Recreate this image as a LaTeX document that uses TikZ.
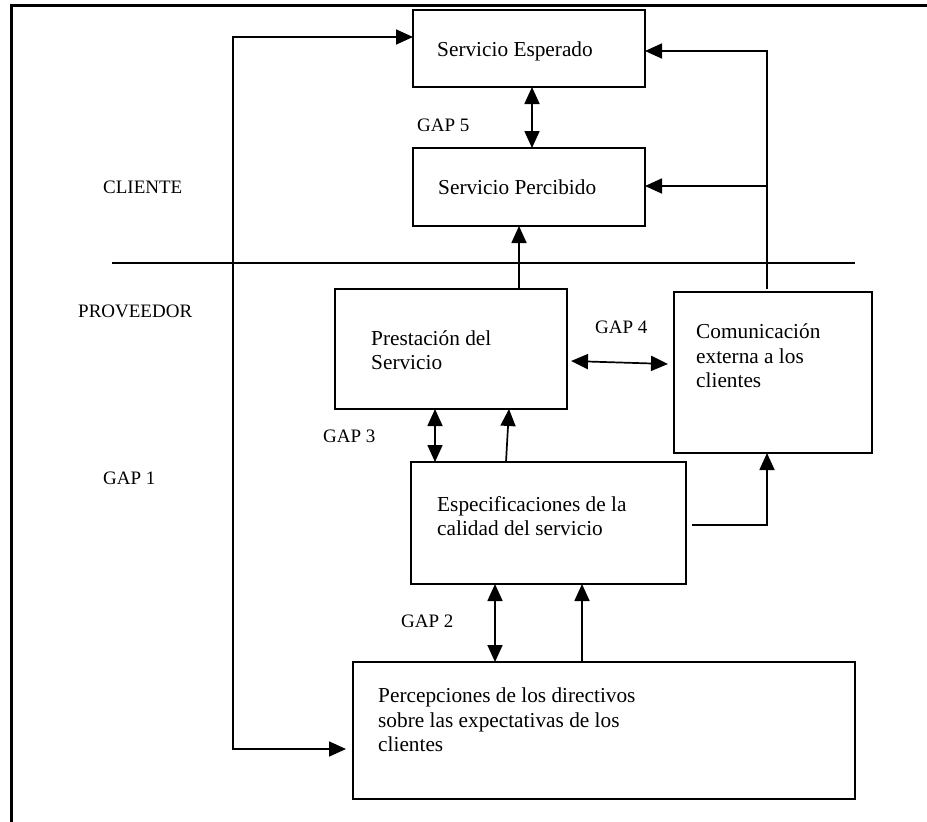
\documentclass[tikz,border=0pt]{standalone}
\usepackage{fontspec}
\setmainfont{Liberation Serif}
\usetikzlibrary{arrows.meta,calc}
\begin{document}
\begin{tikzpicture}[x=1pt,y=-1pt,
  box/.style={draw,line width=2.6pt,rectangle,outer sep=0pt,inner sep=0pt},
  txt/.style={anchor=west,align=left,inner sep=0pt,font=\fontsize{21.3}{24.5}\selectfont},
  lbl/.style={anchor=west,inner sep=0pt,font=\fontsize{19}{22}\selectfont},
  conn/.style={line width=1.7pt},
  arr/.style={conn,-{Triangle[length=17pt,width=15pt]}},
  dbl/.style={conn,{Triangle[length=17pt,width=15pt]}-{Triangle[length=17pt,width=15pt]}},
  frame/.style={line width=3pt}]
\useasboundingbox (0,0) rectangle (927,822);
% outer frame (top and left only)
\draw[frame] (927,5) -- (11,5) -- (11,822);
% boxes
\node[box,minimum width=232,minimum height=77] (esp) at (529,48.5) {};
\node[box,minimum width=232,minimum height=78] (perc) at (529,187) {};
\node[box,minimum width=232,minimum height=120] (pres) at (451,349) {};
\node[box,minimum width=198,minimum height=161] (com) at (773,372.5) {};
\node[box,minimum width=275,minimum height=122] (espec) at (548.5,523) {};
\node[box,minimum width=502,minimum height=137] (percep) at (604,730.5) {};
% box texts
\node[txt] (tesp) at (437,51) {Servicio Esperado};
\node[txt] (tperc) at (438,187) {Servicio Percibido};
\node[txt] (tpres) at (371,350) {Prestación del\\Servicio};
\node[txt] (tcom) at (696,356) {Comunicación\\externa a los\\clientes};
\node[txt] (tespec) at (437,516) {Especificaciones de la\\calidad del servicio};
\node[txt] (tpercep) at (378,720) {Percepciones de los directivos\\sobre las expectativas de los\\clientes};
% side labels
\node[lbl] (cliente) at (103,187) {CLIENTE};
\node[lbl] (proveedor) at (78,311) {PROVEEDOR};
\node[lbl] (gap1) at (103,478) {GAP 1};
\node[lbl] (gap2) at (401,621) {GAP 2};
\node[lbl] (gap3) at (323,436) {GAP 3};
\node[lbl] (gap4) at (595,327) {GAP 4};
\node[lbl] (gap5) at (417,125) {GAP 5};
% divider
\coordinate (dl) at (112,263);
\coordinate (dr) at (855,263);
\draw[conn] (dl) -- (dr);
% GAP 1 loop
\coordinate (l1) at (233,37);
\coordinate (l2) at (233,749);
\draw[dbl] (esp.west |- l1) -- (l1) -- (l2) -- ($(percep.west |- l2)+(-7,0)$);
% right feedback from communication
\coordinate (rt) at (767,51);
\coordinate (rm) at (767,186);
\coordinate (rb) at (767,289);
\draw[arr] (rb) -- (rt) -- (esp.east |- rt);
\draw[arr] (rm) -- (perc.east |- rm);
% GAP 5
\draw[dbl] ([xshift=3]esp.south) -- ([xshift=3]perc.north);
% prestacion -> percibido
\draw[arr] ([xshift=68]pres.north) -- ([xshift=68]pres.north |- perc.south);
% GAP 4
\draw[dbl] ([xshift=4,yshift=-12]pres.east) -- ([xshift=-6,yshift=8.5]com.west);
% GAP 3
\draw[dbl] ([xshift=-16]pres.south) -- ([xshift=-16]pres.south |- espec.north);
% especificaciones -> prestacion
\draw[arr] ([xshift=-42.5]espec.north) -- ([xshift=58]pres.south);
% especificaciones -> comunicacion
\draw[arr] ([xshift=6,yshift=-2]espec.east) -| ([xshift=-6]com.south);
% GAP 2
\draw[dbl] ([xshift=-53.5]espec.south) -- ([xshift=-53.5]espec.south |- percep.north);
% percepciones -> especificaciones
\draw[arr] ([xshift=-22]percep.north) -- ([xshift=-22]percep.north |- espec.south);
\end{tikzpicture}
\end{document}
